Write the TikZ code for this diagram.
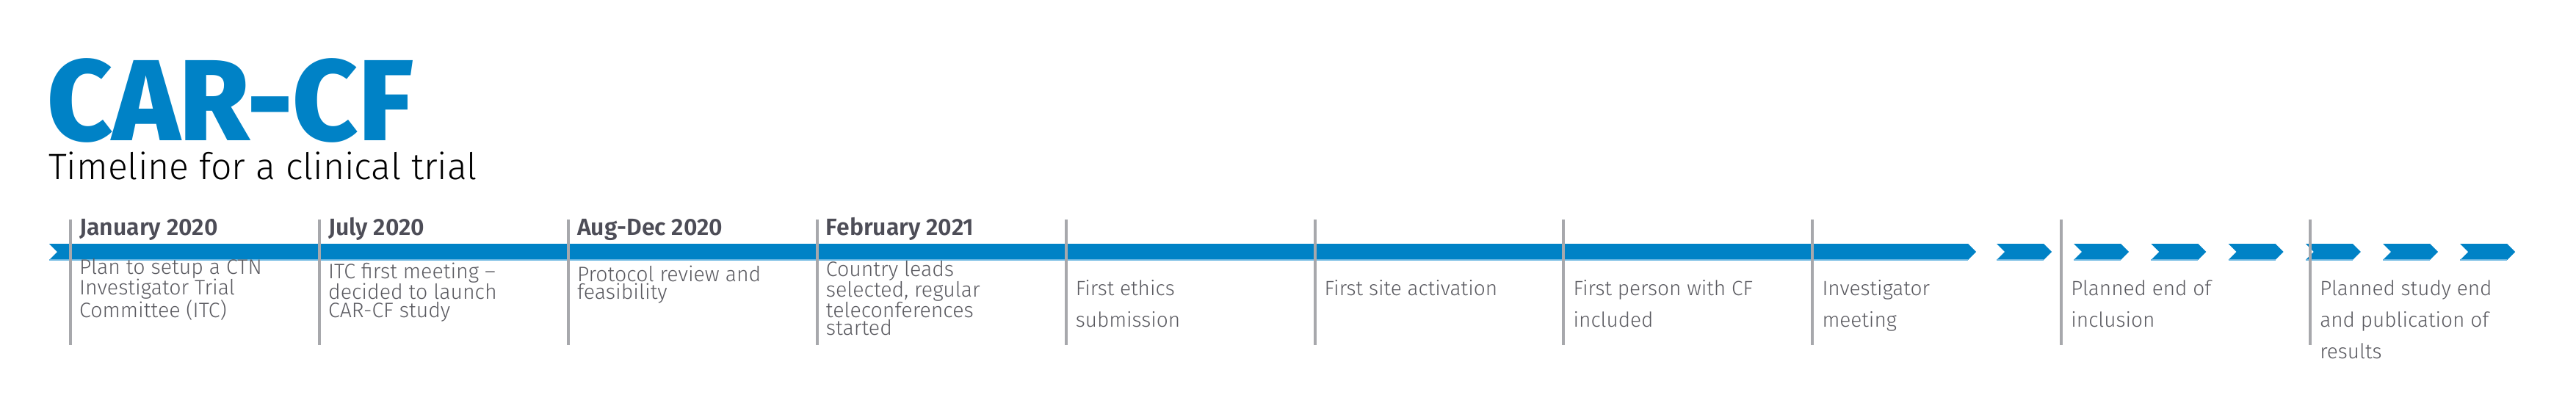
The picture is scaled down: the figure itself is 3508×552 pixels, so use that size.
\documentclass[tikz,border=0pt]{standalone}
\usepackage{fontspec}
\setmainfont{Fira Sans}
\newfontfamily\fLight{Fira Sans Light}
\newfontfamily\fSemi{Fira Sans SemiBold}
\newfontfamily\fHeavy{Fira Sans ExtraBold}
\definecolor{barblue}{HTML}{0082C6}
\definecolor{baredge}{HTML}{66B4E0}
\definecolor{tickgray}{HTML}{A7A8AC}
\definecolor{datetxt}{HTML}{4D4D57}
\definecolor{bodytxt}{HTML}{5A5A60}
\begin{document}
\begin{tikzpicture}[x=1pt,y=-1pt,
  datelbl/.style={anchor=base west, inner sep=0pt, font=\fSemi\fontsize{32}{32}\selectfont, text=datetxt},
  bodyA/.style={anchor=base west, inner sep=0pt, align=left, font=\fLight\fontsize{28.5}{24.6}\selectfont, text=bodytxt},
  bodyB/.style={anchor=base west, inner sep=0pt, align=left, font=\fLight\fontsize{28}{43}\selectfont, text=bodytxt},
  tickline/.style={draw=tickgray, line width=4pt},
  barseg/.style={fill=barblue},
  baredge/.style={draw=baredge, line width=1.2pt}]
\useasboundingbox (0,0) rectangle (3508,552);
% title
\node[anchor=base west, inner sep=0pt, xscale=0.98, font=\fHeavy\fontsize{157}{157}\selectfont, text=barblue] (title) at (64,191) {CAR-CF};
\node[anchor=base west, inner sep=0pt, font=\fLight\fontsize{50}{50}\selectfont, text=black] (subtitle) at (66,244) {Timeline for a clinical trial};
% main bar
\path[barseg] (67,332) -- (2680,332) -- (2691,343) -- (2680,354) -- (67,354) -- (78,343) -- cycle;
\draw[baredge] (67,354) -- (2680,354);
% chevrons
\foreach \k in {0,...,6}{
  \path[barseg] ({2719+105.2*\k},332) -- ++(64,0) -- ++(11,11) -- ++(-11,11) -- ++(-64,0) -- ++(11,-11) -- cycle;
  \draw[baredge] ({2719+105.2*\k},354) -- ++(64,0);
}
% ticks
\foreach \i in {0,...,9}{
  \coordinate (t\i top) at ({96+338.9*\i},299);
  \coordinate (t\i bot) at ({96+338.9*\i},470);
  \draw[tickline] (t\i top) -- (t\i bot);
}
% dates
\node[datelbl] (d0) at (108,320) {January 2020};
\node[datelbl] (d1) at (446.9,320) {July 2020};
\node[datelbl] (d2) at (785.8,320) {Aug-Dec 2020};
\node[datelbl] (d3) at (1124.7,320) {February 2021};
% descriptions (anchor = baseline of the last line)
\node[bodyA] (e0) at (108,432.2) {Plan to setup a CTN\\Investigator Trial\\Committee (ITC)};
\node[bodyA] (e1) at (446.9,432.2) {ITC first meeting –\\decided to launch\\CAR-CF study};
\node[bodyA] (e2) at (785.8,407.6) {Protocol review and\\feasibility};
\node[bodyA] (e3) at (1124.7,456.8) {Country leads\\selected, regular\\teleconferences\\started};
\node[bodyB] (e4) at (1464.6,445) {First ethics\\submission};
\node[bodyB] (e5) at (1803.5,402) {First site activation};
\node[bodyB] (e6) at (2142.4,445) {First person with CF\\included};
\node[bodyB] (e7) at (2481.3,445) {Investigator\\meeting};
\node[bodyB] (e8) at (2820.2,445) {Planned end of\\inclusion};
\node[bodyB] (e9) at (3159.1,488) {Planned study end\\and publication of\\results};
\end{tikzpicture}
\end{document}
